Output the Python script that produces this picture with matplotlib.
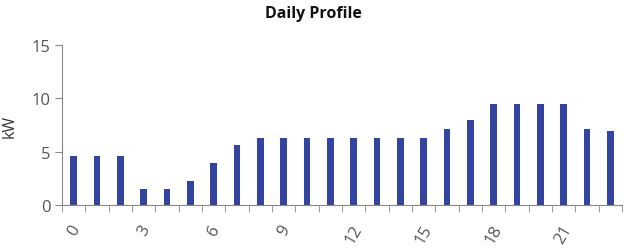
import numpy as np
import matplotlib
matplotlib.use("Agg")
import matplotlib.pyplot as plt

# Hourly load values
hours = list(range(24))
kw = [4.6, 4.6, 4.6, 1.5, 1.5, 2.3, 3.9, 5.6,
      6.3, 6.3, 6.3, 6.3, 6.3, 6.3, 6.3, 6.3,
      7.1, 8.0, 9.5, 9.5, 9.5, 9.5, 7.1, 6.9]
label_hours = [0, 3, 6, 9, 12, 15, 18, 21]
y_ticks = [0, 5, 10, 15]

plt.rcParams['font.family'] = ['Open Sans', 'DejaVu Sans']

fig = plt.figure(figsize=(6.27, 2.51), dpi=100)
ax = fig.add_axes([0.099, 0.179, 0.893, 0.638])

ax.bar(hours, kw, width=0.29, color='#3243a0')

ax.set_xlim(-0.5, 23.5)
ax.set_ylim(0, 15)
ax.set_yticks(y_ticks)
ax.set_xticks(label_hours)
ax.set_xticklabels([str(h) for h in label_hours], rotation=60, ha='center', va='top')
ax.set_xticks(np.arange(-0.5, 24, 1), minor=True)
ax.tick_params(axis='x', which='major', length=0, pad=12, labelsize=12, colors='#555555')
ax.tick_params(axis='x', which='minor', length=5, color='#888888')
ax.tick_params(axis='y', length=5, color='#888888', labelsize=12, labelcolor='#555555')

for s in ['top', 'right']:
    ax.spines[s].set_visible(False)
for s in ['left', 'bottom']:
    ax.spines[s].set_color('#888888')

ax.set_ylabel('kW', fontsize=11.5, color='#333333', labelpad=10)
fig.text(0.5, 0.945, 'Daily Profile', ha='center', va='center', fontsize=11.5, fontweight='bold', color='#111111')

fig.savefig('out.png', dpi=100)
